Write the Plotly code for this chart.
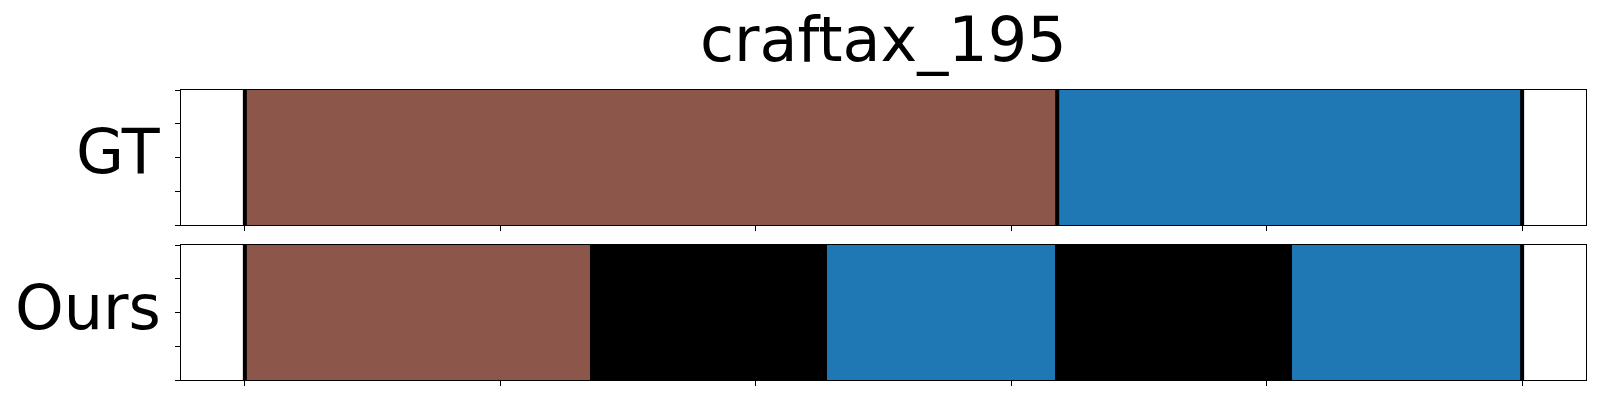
import plotly.graph_objects as go
from plotly.subplots import make_subplots

title = "craftax_195"
row_labels = ["GT", "Ours"]
total_len = 100
tick_vals = [0, 20, 40, 60, 80, 100]
ytick_vals = [0, 0.25, 0.5, 0.75, 1.0]

# segments
gt_starts = [0, 63.6]
gt_ends = [63.6, 100]
gt_colors = ["#8c564b", "#1f77b4"]
gt_bounds = [0, 63.6, 100]

ours_starts = [0, 27.05, 45.57, 63.4, 81.95]
ours_ends = [27.05, 45.57, 63.4, 81.95, 100]
ours_colors = ["#8c564b", "#000000", "#1f77b4", "#000000", "#1f77b4"]
ours_bounds = [0, 100]

W, H = 1600, 400
L, R, T, B = 181, 14, 90, 20
fig = make_subplots(rows=2, cols=1, vertical_spacing=20 / (H - T - B), shared_xaxes=False)

rows = [(gt_starts, gt_ends, gt_colors, gt_bounds), (ours_starts, ours_ends, ours_colors, ours_bounds)]
for r, (starts, ends, colors, bounds) in enumerate(rows, start=1):
    for s, e, c in zip(starts, ends, colors):
        fig.add_trace(go.Bar(x=[e - s], base=[s], y=[0.5], width=[1.0], orientation="h",
                             marker=dict(color=c, line=dict(width=0)), showlegend=False,
                             hoverinfo="skip"), row=r, col=1)
    for b in bounds:
        fig.add_trace(go.Scatter(x=[b, b], y=[0, 1], mode="lines",
                                 line=dict(color="black", width=4), showlegend=False,
                                 hoverinfo="skip"), row=r, col=1)

axis_common = dict(showline=True, mirror=True, linecolor="black", linewidth=1,
                   ticks="outside", ticklen=5, tickwidth=1, tickcolor="black",
                   showticklabels=False, showgrid=False, zeroline=False)
for r in (1, 2):
    fig.update_xaxes(range=[-0.05 * total_len, 1.05 * total_len], tickvals=tick_vals,
                     row=r, col=1, **axis_common)
    fig.update_yaxes(range=[0, 1], tickvals=ytick_vals, row=r, col=1, **axis_common)

font_fam = "DejaVu Sans"
annotations = [
    dict(text=title, xref="paper", yref="paper", x=0.5, y=1, yshift=12, yanchor="bottom",
         xanchor="center", showarrow=False, font=dict(family=font_fam, size=62, color="black")),
    dict(text=row_labels[0], xref="paper", yref="y domain", x=0, y=0.5, xshift=-18, yshift=6,
         xanchor="right", yanchor="middle", showarrow=False,
         font=dict(family=font_fam, size=62, color="black")),
    dict(text=row_labels[1], xref="paper", yref="y2 domain", x=0, y=0.5, xshift=-18, yshift=5,
         xanchor="right", yanchor="middle", showarrow=False,
         font=dict(family=font_fam, size=62, color="black")),
]

fig.update_layout(width=W, height=H, margin=dict(l=L, r=R, t=T, b=B),
                  paper_bgcolor="white", plot_bgcolor="white", barmode="overlay",
                  bargap=0, annotations=annotations, showlegend=False)

fig.write_html("out.html", config={"displayModeBar": False, "staticPlot": True},
               post_script="document.body.style.margin='0';")
